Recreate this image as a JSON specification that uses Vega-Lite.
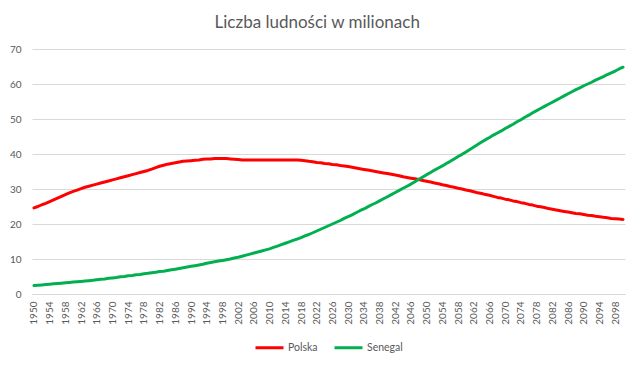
{
"$schema": "https://vega.github.io/schema/vega-lite/v6.json",
"width": 593, "height": 245,
"autosize": {"type": "none"},
"padding": {"left": 32, "top": 49, "right": 15, "bottom": 73},
"background": "white",
"title": {"text": "Liczba ludności w milionach", "font": "Lato", "fontSize": 17, "fontWeight": "normal", "color": "#595959", "anchor": "middle", "frame": "bounds", "offset": 12},
"data": {"values": [
{"rok":1950,"Polska":24.6,"Senegal":2.4},{"rok":1951,"Polska":25.0,"Senegal":2.5},{"rok":1952,"Polska":25.5,"Senegal":2.6},{"rok":1953,"Polska":25.9,"Senegal":2.7},{"rok":1954,"Polska":26.4,"Senegal":2.8},{"rok":1955,"Polska":26.9,"Senegal":2.9},{"rok":1956,"Polska":27.4,"Senegal":3.0},{"rok":1957,"Polska":27.9,"Senegal":3.1},{"rok":1958,"Polska":28.4,"Senegal":3.2},{"rok":1959,"Polska":28.9,"Senegal":3.3},
{"rok":1960,"Polska":29.3,"Senegal":3.4},{"rok":1961,"Polska":29.7,"Senegal":3.5},{"rok":1962,"Polska":30.1,"Senegal":3.6},{"rok":1963,"Polska":30.5,"Senegal":3.7},{"rok":1964,"Polska":30.8,"Senegal":3.8},{"rok":1965,"Polska":31.1,"Senegal":3.9},{"rok":1966,"Polska":31.4,"Senegal":4.1},{"rok":1967,"Polska":31.7,"Senegal":4.2},{"rok":1968,"Polska":32.0,"Senegal":4.3},{"rok":1969,"Polska":32.3,"Senegal":4.5},
{"rok":1970,"Polska":32.6,"Senegal":4.6},{"rok":1971,"Polska":32.9,"Senegal":4.7},{"rok":1972,"Polska":33.2,"Senegal":4.9},{"rok":1973,"Polska":33.5,"Senegal":5.0},{"rok":1974,"Polska":33.8,"Senegal":5.2},{"rok":1975,"Polska":34.1,"Senegal":5.3},{"rok":1976,"Polska":34.4,"Senegal":5.5},{"rok":1977,"Polska":34.7,"Senegal":5.6},{"rok":1978,"Polska":35.0,"Senegal":5.8},{"rok":1979,"Polska":35.3,"Senegal":5.9},
{"rok":1980,"Polska":35.7,"Senegal":6.1},{"rok":1981,"Polska":36.1,"Senegal":6.2},{"rok":1982,"Polska":36.5,"Senegal":6.4},{"rok":1983,"Polska":36.8,"Senegal":6.5},{"rok":1984,"Polska":37.1,"Senegal":6.7},{"rok":1985,"Polska":37.3,"Senegal":6.9},{"rok":1986,"Polska":37.5,"Senegal":7.1},{"rok":1987,"Polska":37.7,"Senegal":7.3},{"rok":1988,"Polska":37.9,"Senegal":7.5},{"rok":1989,"Polska":38.0,"Senegal":7.7},
{"rok":1990,"Polska":38.1,"Senegal":7.9},{"rok":1991,"Polska":38.2,"Senegal":8.1},{"rok":1992,"Polska":38.3,"Senegal":8.3},{"rok":1993,"Polska":38.5,"Senegal":8.5},{"rok":1994,"Polska":38.6,"Senegal":8.8},{"rok":1995,"Polska":38.6,"Senegal":9.0},{"rok":1996,"Polska":38.7,"Senegal":9.2},{"rok":1997,"Polska":38.7,"Senegal":9.4},{"rok":1998,"Polska":38.7,"Senegal":9.6},{"rok":1999,"Polska":38.7,"Senegal":9.8},
{"rok":2000,"Polska":38.6,"Senegal":10.0},{"rok":2001,"Polska":38.5,"Senegal":10.3},{"rok":2002,"Polska":38.4,"Senegal":10.5},{"rok":2003,"Polska":38.3,"Senegal":10.8},{"rok":2004,"Polska":38.3,"Senegal":11.1},{"rok":2005,"Polska":38.3,"Senegal":11.4},{"rok":2006,"Polska":38.3,"Senegal":11.7},{"rok":2007,"Polska":38.3,"Senegal":12.0},{"rok":2008,"Polska":38.3,"Senegal":12.3},{"rok":2009,"Polska":38.3,"Senegal":12.6},
{"rok":2010,"Polska":38.3,"Senegal":12.9},{"rok":2011,"Polska":38.3,"Senegal":13.3},{"rok":2012,"Polska":38.3,"Senegal":13.7},{"rok":2013,"Polska":38.3,"Senegal":14.1},{"rok":2014,"Polska":38.3,"Senegal":14.5},{"rok":2015,"Polska":38.3,"Senegal":14.9},{"rok":2016,"Polska":38.3,"Senegal":15.3},{"rok":2017,"Polska":38.3,"Senegal":15.7},{"rok":2018,"Polska":38.2,"Senegal":16.1},{"rok":2019,"Polska":38.1,"Senegal":16.6},
{"rok":2020,"Polska":37.9,"Senegal":17.0},{"rok":2021,"Polska":37.8,"Senegal":17.5},{"rok":2022,"Polska":37.6,"Senegal":18.0},{"rok":2023,"Polska":37.5,"Senegal":18.5},{"rok":2024,"Polska":37.3,"Senegal":19.0},{"rok":2025,"Polska":37.2,"Senegal":19.5},{"rok":2026,"Polska":37.0,"Senegal":20.0},{"rok":2027,"Polska":36.9,"Senegal":20.5},{"rok":2028,"Polska":36.7,"Senegal":21.0},{"rok":2029,"Polska":36.6,"Senegal":21.6},
{"rok":2030,"Polska":36.4,"Senegal":22.1},{"rok":2031,"Polska":36.2,"Senegal":22.6},{"rok":2032,"Polska":36.0,"Senegal":23.2},{"rok":2033,"Polska":35.8,"Senegal":23.8},{"rok":2034,"Polska":35.6,"Senegal":24.3},{"rok":2035,"Polska":35.4,"Senegal":24.9},{"rok":2036,"Polska":35.2,"Senegal":25.5},{"rok":2037,"Polska":35.0,"Senegal":26.0},{"rok":2038,"Polska":34.8,"Senegal":26.6},{"rok":2039,"Polska":34.6,"Senegal":27.2},
{"rok":2040,"Polska":34.4,"Senegal":27.8},{"rok":2041,"Polska":34.2,"Senegal":28.4},{"rok":2042,"Polska":34.0,"Senegal":29.0},{"rok":2043,"Polska":33.8,"Senegal":29.6},{"rok":2044,"Polska":33.5,"Senegal":30.2},{"rok":2045,"Polska":33.3,"Senegal":30.8},{"rok":2046,"Polska":33.1,"Senegal":31.4},{"rok":2047,"Polska":32.9,"Senegal":32.1},{"rok":2048,"Polska":32.7,"Senegal":32.8},{"rok":2049,"Polska":32.4,"Senegal":33.4},
{"rok":2050,"Polska":32.2,"Senegal":34.1},{"rok":2051,"Polska":32.0,"Senegal":34.7},{"rok":2052,"Polska":31.7,"Senegal":35.4},{"rok":2053,"Polska":31.5,"Senegal":36.0},{"rok":2054,"Polska":31.2,"Senegal":36.6},{"rok":2055,"Polska":31.0,"Senegal":37.3},{"rok":2056,"Polska":30.7,"Senegal":37.9},{"rok":2057,"Polska":30.5,"Senegal":38.6},{"rok":2058,"Polska":30.2,"Senegal":39.3},{"rok":2059,"Polska":30.0,"Senegal":39.9},
{"rok":2060,"Polska":29.7,"Senegal":40.6},{"rok":2061,"Polska":29.5,"Senegal":41.3},{"rok":2062,"Polska":29.2,"Senegal":42.0},{"rok":2063,"Polska":28.9,"Senegal":42.7},{"rok":2064,"Polska":28.7,"Senegal":43.4},{"rok":2065,"Polska":28.4,"Senegal":44.1},{"rok":2066,"Polska":28.2,"Senegal":44.7},{"rok":2067,"Polska":27.9,"Senegal":45.4},{"rok":2068,"Polska":27.6,"Senegal":46.0},{"rok":2069,"Polska":27.4,"Senegal":46.6},
{"rok":2070,"Polska":27.1,"Senegal":47.3},{"rok":2071,"Polska":26.9,"Senegal":47.9},{"rok":2072,"Polska":26.6,"Senegal":48.5},{"rok":2073,"Polska":26.4,"Senegal":49.2},{"rok":2074,"Polska":26.1,"Senegal":49.8},{"rok":2075,"Polska":25.9,"Senegal":50.5},{"rok":2076,"Polska":25.6,"Senegal":51.1},{"rok":2077,"Polska":25.4,"Senegal":51.8},{"rok":2078,"Polska":25.1,"Senegal":52.4},{"rok":2079,"Polska":24.9,"Senegal":53.0},
{"rok":2080,"Polska":24.7,"Senegal":53.6},{"rok":2081,"Polska":24.4,"Senegal":54.2},{"rok":2082,"Polska":24.2,"Senegal":54.8},{"rok":2083,"Polska":24.0,"Senegal":55.4},{"rok":2084,"Polska":23.8,"Senegal":56.0},{"rok":2085,"Polska":23.6,"Senegal":56.6},{"rok":2086,"Polska":23.4,"Senegal":57.2},{"rok":2087,"Polska":23.2,"Senegal":57.8},{"rok":2088,"Polska":23.0,"Senegal":58.4},{"rok":2089,"Polska":22.9,"Senegal":58.9},
{"rok":2090,"Polska":22.7,"Senegal":59.5},{"rok":2091,"Polska":22.5,"Senegal":60.0},{"rok":2092,"Polska":22.4,"Senegal":60.5},{"rok":2093,"Polska":22.2,"Senegal":61.1},{"rok":2094,"Polska":22.1,"Senegal":61.6},{"rok":2095,"Polska":21.9,"Senegal":62.1},{"rok":2096,"Polska":21.8,"Senegal":62.7},{"rok":2097,"Polska":21.6,"Senegal":63.2},{"rok":2098,"Polska":21.5,"Senegal":63.7},{"rok":2099,"Polska":21.4,"Senegal":64.3},
{"rok":2100,"Polska":21.3,"Senegal":64.8}
]},
"transform": [{"fold": ["Polska", "Senegal"], "as": ["kraj", "wartosc"]}],
"mark": {"type": "line", "strokeWidth": 3, "strokeCap": "round", "strokeJoin": "round"},
"encoding": {
  "x": {"field": "rok", "type": "quantitative", "title": null,
        "scale": {"domain": [1949.5, 2100.5], "nice": false, "zero": false},
        "axis": {"values": [1950,1954,1958,1962,1966,1970,1974,1978,1982,1986,1990,1994,1998,2002,2006,2010,2014,2018,2022,2026,2030,2034,2038,2042,2046,2050,2054,2058,2062,2066,2070,2074,2078,2082,2086,2090,2094,2098],
                 "format": "d", "labelAngle": 270, "labelPadding": 7, "labelFont": "Lato", "labelFontSize": 10, "labelColor": "#595959",
                 "ticks": false, "grid": false, "domain": true, "domainColor": "#d9d9d9", "labelOverlap": false, "labelFlush": false}},
  "y": {"field": "wartosc", "type": "quantitative", "title": null,
        "scale": {"domain": [0, 70], "nice": false},
        "axis": {"values": [0,10,20,30,40,50,60,70], "labelPadding": 11, "labelFont": "Lato", "labelFontSize": 10, "labelColor": "#595959",
                 "ticks": false, "domain": false, "grid": true, "gridColor": "#d9d9d9", "gridWidth": 1}},
  "color": {"field": "kraj", "type": "nominal",
            "scale": {"domain": ["Polska", "Senegal"], "range": ["#ff0000", "#00b050"]},
            "legend": {"orient": "bottom", "direction": "horizontal", "title": null, "symbolType": "stroke", "symbolSize": 784, "symbolStrokeWidth": 3,
                       "labelFont": "Lato", "labelFontSize": 10.5, "labelColor": "#595959", "columnPadding": 10, "labelOffset": 3, "offset": 7}}
},
"config": {"view": {"stroke": null}, "legend": {"layout": {"bottom": {"anchor": "middle"}}}}
}
